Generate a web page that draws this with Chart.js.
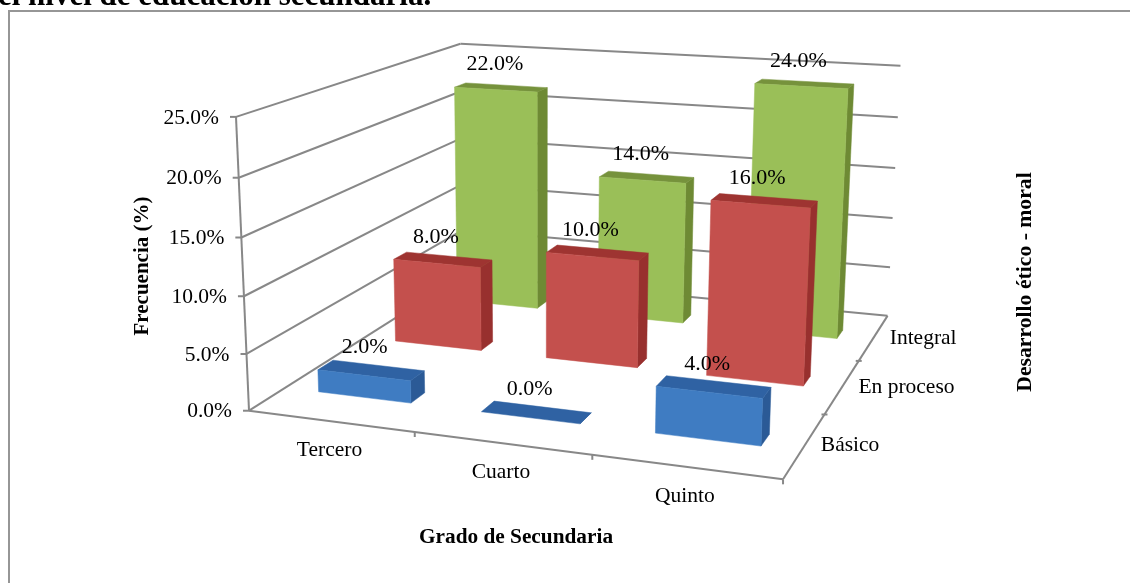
<!DOCTYPE html>
<html><head><meta charset="utf-8">
<style>html,body{margin:0;padding:0;background:#fff;overflow:hidden}canvas{display:block}</style>
<script src="https://cdn.jsdelivr.net/npm/chart.js@4"></script>
</head><body><canvas id="c" width="1130" height="583"></canvas>
<script>
const grades = ['Tercero', 'Cuarto', 'Quinto'];
const basico = [2, 0, 4];
const enProceso = [8, 10, 16];
const integral = [22, 14, 24];
const yTicksMax = 25;

// view of the 3-D box: (category, depth, value) fractions -> canvas pixel
const boxCorners = [
  [0,0,0,250,410],[1,0,0,783,480],[0,1,0,462,276],[1,1,0,888,315],
  [0,0,1,235,117],[0,1,1,461.7,43.3],[1,1,1,900,66]
];
const FONT = '"Liberation Serif","Times New Roman",serif';
const LINE = '#888888';
const depthCentre = [0.1685, 0.5085, 0.831];
const depthSize = 0.062;
const labelShift = [[-6.5,-24.5],[-7,-24],[-6,-24.5]];
const faces = [
  {front:'#3f7cc2', top:'#2f62a3', side:'#2b5a96'},
  {front:'#c4504d', top:'#9e3431', side:'#98302e'},
  {front:'#9abf58', top:'#76923c', side:'#6e8a34'}
];

function solveCamera(pts){
  const A=[],b=[];
  pts.forEach(([X,Y,Z,x,y])=>{
    A.push([X,Y,Z,1,0,0,0,0,-x*X,-x*Y,-x*Z]);b.push(x);
    A.push([0,0,0,0,X,Y,Z,1,-y*X,-y*Y,-y*Z]);b.push(y);
  });
  const n=11,M=[];
  for(let i=0;i<n;i++){const r=[];for(let j=0;j<n;j++){let s=0;A.forEach(a=>s+=a[i]*a[j]);r.push(s);}
    let s=0;A.forEach((a,k)=>s+=a[i]*b[k]);r.push(s);M.push(r);}
  for(let i=0;i<n;i++){let p=i;for(let k=i+1;k<n;k++)if(Math.abs(M[k][i])>Math.abs(M[p][i]))p=k;
    [M[i],M[p]]=[M[p],M[i]];
    for(let k=0;k<n;k++){if(k===i)continue;const f=M[k][i]/M[i][i];for(let j=i;j<=n;j++)M[k][j]-=f*M[i][j];}}
  return M.map((r,i)=>r[n]/r[i]);
}
const cam = solveCamera(boxCorners);
function project(u,d,v){
  const w=cam[8]*u+cam[9]*d+cam[10]*v+1;
  return [(cam[0]*u+cam[1]*d+cam[2]*v+cam[3])/w,(cam[4]*u+cam[5]*d+cam[6]*v+cam[7])/w];
}
function line(ctx,a,b){ctx.beginPath();ctx.moveTo(a[0],a[1]);ctx.lineTo(b[0],b[1]);ctx.stroke();}
function poly(ctx,pts,fill){ctx.beginPath();pts.forEach((p,i)=>i?ctx.lineTo(p[0],p[1]):ctx.moveTo(p[0],p[1]));ctx.closePath();
  ctx.fillStyle=fill;ctx.fill();ctx.strokeStyle=fill;ctx.lineWidth=0.5;ctx.stroke();}
function text(ctx,s,x,y,align,font){ctx.font=font;ctx.textAlign=align;ctx.textBaseline='middle';ctx.fillStyle='#000';ctx.fillText(s,x,y+1.5);}

const box3d = {
  id:'box3d',
  beforeDatasetsDraw(chart){
    const ctx=chart.ctx,sy=chart.scales.y,sx=chart.scales.x;
    ctx.save();
    // page title fragment and frame
    text(ctx,'el nivel de educación secundaria.',-2,-5,'left','bold 31px '+FONT);
    ctx.strokeStyle='#969696';ctx.lineWidth=2;
    ctx.beginPath();ctx.moveTo(9,583);ctx.lineTo(9,11);ctx.lineTo(1130,11);ctx.stroke();
    // walls and floor
    ctx.strokeStyle=LINE;ctx.lineWidth=2;ctx.lineCap='butt';
    sy.ticks.forEach(t=>{
      const v=(t.value-sy.min)/(sy.max-sy.min);
      const a=project(0,0,v),b=project(0,1,v),c=project(1,1,v);
      line(ctx,a,b);line(ctx,b,c);
      line(ctx,a,[a[0]-6,a[1]]);
      text(ctx,t.value.toFixed(1)+'%',a[0]-17,a[1]-0.5,'right','21.5px '+FONT);
    });
    line(ctx,project(0,0,0),project(0,0,1));
    line(ctx,project(0,0,0),project(1,0,0));
    line(ctx,project(1,0,0),project(1,1,0));
    for(let i=1;i<=3;i++){const p=project(i/3,0,0);line(ctx,p,[p[0],p[1]+5]);}
    for(let i=1;i<=2;i++){const p=project(1,i/3,0);line(ctx,[p[0]-3,p[1]],[p[0]+3,p[1]]);}
    grades.forEach((g,i)=>{
      const p=project((sx.getPixelForValue(i)-sx.left)/sx.width,0,0);
      text(ctx,g,p[0]-1,p[1]+28,'center','21.5px '+FONT);
    });
    chart.data.datasets.forEach((ds,i)=>{
      const p=project(1,(i+.5)/3,0);
      text(ctx,ds.label,p[0]+16,p[1]-1,'left','21.5px '+FONT);
    });
    text(ctx,'Grado de Secundaria',516,536,'center','bold 21.3px '+FONT);
    ctx.translate(141.5,266);ctx.rotate(-Math.PI/2);text(ctx,'Frecuencia (%)',0,0,'center','bold 21px '+FONT);
    ctx.rotate(Math.PI/2);ctx.translate(-141.5,-266);
    ctx.translate(1024,282);ctx.rotate(-Math.PI/2);text(ctx,'Desarrollo ético - moral',0,0,'center','bold 21.7px '+FONT);
    ctx.restore();
  },
  beforeDatasetDraw(chart,args){
    const ctx=chart.ctx,sx=chart.scales.x,sy=chart.scales.y,i=args.index,c=faces[i];
    const d0=depthCentre[i]-depthSize/2,d1=depthCentre[i]+depthSize/2;
    args.meta.data.forEach(el=>{
      const u0=(el.x-el.width/2-sx.left)/sx.width,u1=(el.x+el.width/2-sx.left)/sx.width;
      const top=(sy.bottom-el.y)/sy.height,base=(sy.bottom-el.base)/sy.height;
      const P=(u,d,v)=>project(u,d,v);
      poly(ctx,[P(u1,d0,base),P(u1,d1,base),P(u1,d1,top),P(u1,d0,top)],c.side);
      poly(ctx,[P(u0,d0,top),P(u1,d0,top),P(u1,d1,top),P(u0,d1,top)],c.top);
      if(top>base)poly(ctx,[P(u0,d0,base),P(u1,d0,base),P(u1,d0,top),P(u0,d0,top)],c.front);
    });
    return false;
  },
  afterDatasetsDraw(chart){
    const ctx=chart.ctx,sx=chart.scales.x,sy=chart.scales.y;
    chart.data.datasets.forEach((ds,i)=>{
      chart.getDatasetMeta(i).data.forEach((el,k)=>{
        const p=project((el.x-sx.left)/sx.width,depthCentre[i],(sy.bottom-el.y)/sy.height);
        text(ctx,ds.data[k].toFixed(1)+'%',p[0]+labelShift[i][0],p[1]+labelShift[i][1],'center','22px '+FONT);
      });
    });
  }
};

new Chart(document.getElementById('c'),{
  type:'bar',
  data:{labels:grades,datasets:[
    {label:'Básico',data:basico,grouped:false,backgroundColor:faces[0].front},
    {label:'En proceso',data:enProceso,grouped:false,backgroundColor:faces[1].front},
    {label:'Integral',data:integral,grouped:false,backgroundColor:faces[2].front}
  ]},
  options:{
    responsive:false,animation:false,
    barPercentage:0.575,categoryPercentage:1,
    plugins:{legend:{display:false},title:{display:false},tooltip:{enabled:false}},
    scales:{
      x:{display:false},
      y:{display:false,min:0,max:yTicksMax,ticks:{stepSize:5}}
    }
  },
  plugins:[box3d]
});
</script></body></html>
